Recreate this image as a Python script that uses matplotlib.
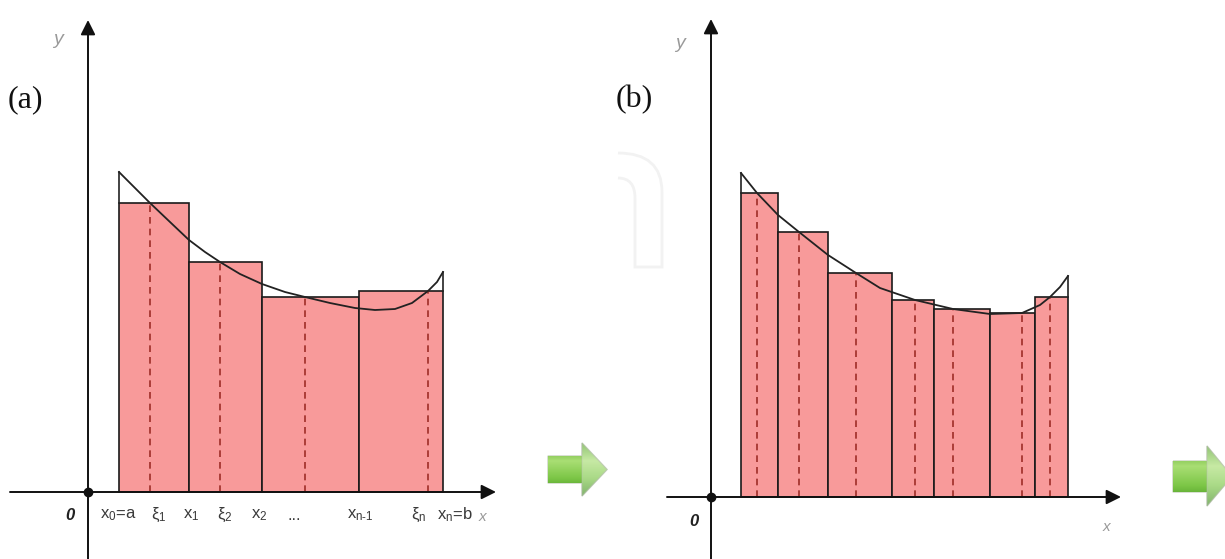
## Imports
import numpy as np
import matplotlib
matplotlib.use("Agg")
import matplotlib.pyplot as plt
from matplotlib.path import Path
from matplotlib.patches import PathPatch, Polygon
from matplotlib.colors import LinearSegmentedColormap

plt.rcParams["mathtext.fontset"] = "custom"
plt.rcParams["mathtext.rm"] = "Liberation Sans"
plt.rcParams["mathtext.it"] = "Liberation Sans:italic"

## Data (units: 1 unit = distance between gridless ticks)
# panel (a): 4 rectangles
edges_a = [3.1, 10.1, 17.4, 27.1, 35.5]
heights_a = [28.9, 23.0, 19.5, 20.1]
xi_a = [6.2, 13.2, 21.7, 34.0]
curve_xa = [3.1, 4.7, 6.2, 8.2, 10.1, 11.7, 13.2, 15.2, 17.4, 19.7, 21.7,
            24.2, 26.7, 28.7, 30.7, 32.4, 34.0, 34.9, 35.5]
curve_ya = [32.0, 30.4, 28.9, 27.0, 25.2, 24.0, 23.0, 21.8, 20.8, 20.0, 19.5,
            18.9, 18.4, 18.2, 18.3, 18.9, 20.1, 21.0, 22.0]
tick_labels_a = ["x$_0$=a", "ξ$_1$", "x$_1$", "ξ$_2$", "x$_2$", "...",
                 "x$_{\\mathrm{n}\u20111}$", "ξ$_\\mathrm{n}$", "x$_\\mathrm{n}$=b"]
tick_pos_a = [3.0, 7.1, 10.3, 13.7, 17.1, 20.6, 27.2, 33.1, 36.7]

# panel (b): 7 rectangles
edges_b = [3.0, 6.7, 11.7, 18.1, 22.3, 27.9, 32.4, 35.7]
heights_b = [30.4, 26.5, 22.4, 19.7, 18.8, 18.4, 20.0]
xi_b = [4.6, 8.8, 14.5, 20.4, 24.2, 31.1, 33.9]
curve_xb = [3.0, 4.6, 6.7, 8.8, 11.7, 14.5, 16.9, 20.4, 24.2, 27.9, 31.1,
            32.9, 33.9, 34.9, 35.7]
curve_yb = [32.4, 30.4, 28.2, 26.5, 24.2, 22.4, 20.9, 19.7, 18.8, 18.3, 18.4,
            19.2, 20.0, 21.0, 22.1]

## Styles
FILL = "#f89a9a"
DASH = "#9e2d27"
LABEL = "#3a3a3a"
GREY = "#9a9a9a"


def draw_panel(ax, edges, heights, xi, cx, cy, x_axis, y_axis):
    ax.set_axis_off()
    widths = np.diff(edges)
    ax.bar(edges[:-1], heights, width=widths, align="edge", color=FILL,
           edgecolor="#1a1a1a", linewidth=1.2, zorder=2)
    ax.vlines(xi, 0, heights, colors=DASH, linestyles=(0, (4, 3)),
              linewidth=1.2, zorder=3)
    # curve f(x) and the side lines up to it at a and b
    ax.plot(cx, cy, color="#222222", lw=1.3, zorder=4)
    ax.plot([edges[0], edges[0]], [heights[0], cy[0]], color="#222222", lw=1.2, zorder=4)
    ax.plot([edges[-1], edges[-1]], [heights[-1], cy[-1]], color="#222222", lw=1.2, zorder=4)
    # coordinate axes with arrows
    arrow = dict(arrowstyle="-|>", lw=1.4, color="#111111", mutation_scale=22,
                 shrinkA=0, shrinkB=0)
    ax.annotate("", xy=(x_axis[1], 0), xytext=(x_axis[0], 0), arrowprops=arrow, zorder=5)
    ax.annotate("", xy=(0, y_axis[1]), xytext=(0, y_axis[0]), arrowprops=arrow, zorder=5)
    ax.plot([0], [0], "o", color="#111111", ms=6, zorder=6)


## Figure
fig = plt.figure(figsize=(12.25, 5.59), dpi=100)

ax_a = fig.add_axes([0, 0, 612 / 1225, 1])
ax_a.set_xlim(-8.8, 52.4)
ax_a.set_ylim(-6.7, 49.2)
draw_panel(ax_a, edges_a, heights_a, xi_a, curve_xa, curve_ya, (-7.8, 40.8), (-6.7, 47.2))

ax_b = fig.add_axes([612 / 1225, 0, 613 / 1225, 1])
ax_b.set_xlim(-9.9, 51.4)
ax_b.set_ylim(-6.2, 49.7)
draw_panel(ax_b, edges_b, heights_b, xi_b, curve_xb, curve_yb, (-4.4, 41.0), (-6.2, 47.8))

# tick labels under panel (a)
lab_font = ["Liberation Sans Narrow", "Liberation Sans", "DejaVu Sans"]
for lab, xp in zip(tick_labels_a, tick_pos_a):
    ax_a.text(xp, -2.3, lab, ha="center", va="center", fontsize=12,
              color=LABEL, family=lab_font)
ax_a.text(39.4, -2.5, "x", ha="center", va="center", fontsize=11,
          color=GREY, style="italic", family=lab_font)
ax_a.text(-1.8, -2.4, "0", ha="center", va="center", fontsize=12,
          color="#222222", style="italic", weight="bold", family=lab_font)
ax_a.text(-3.0, 45.2, "y", ha="center", va="center", fontsize=14,
          color=GREY, style="italic", family=lab_font)

ax_b.text(39.5, -3.0, "x", ha="center", va="center", fontsize=11,
          color=GREY, style="italic", family=lab_font)
ax_b.text(-1.7, -2.5, "0", ha="center", va="center", fontsize=12,
          color="#222222", style="italic", weight="bold", family=lab_font)
ax_b.text(-3.1, 45.4, "y", ha="center", va="center", fontsize=14,
          color=GREY, style="italic", family=lab_font)

## Overlay in pixel coordinates for the decorations
ov = fig.add_axes([0, 0, 1, 1], zorder=10)
ov.set_xlim(0, 1225)
ov.set_ylim(559, 0)
ov.set_axis_off()
ov.patch.set_alpha(0)

ov.text(8, 100, "(a)", fontsize=23, family=["Liberation Serif", "DejaVu Serif"],
        va="center", ha="left", color="#111111")
ov.text(616, 100, "(b)", fontsize=23, family=["Liberation Serif", "DejaVu Serif"],
        va="center", ha="left", color="#111111")

# faint watermark hook in panel (b)
verts = [(618, 153), (662, 153), (662, 192), (662, 267), (635, 267),
         (635, 198), (635, 178), (618, 178)]
codes = [Path.MOVETO, Path.CURVE3, Path.CURVE3, Path.LINETO, Path.LINETO,
         Path.LINETO, Path.CURVE3, Path.CURVE3]
ov.add_patch(PathPatch(Path(verts, codes), fill=False, edgecolor="#f2f2f2", lw=2.0))

# green "next" arrows
green = LinearSegmentedColormap.from_list(
    "g", ["#5aa82c", "#a9de74", "#7cc646", "#3f8c1f"])


def green_arrow(x0, y0, x1, y1, xh, yh0, yh1, tip):
    ym = (y0 + y1) / 2
    pts = [(x0, y0), (x1, y0), (x1, yh0), (tip, ym), (x1, yh1), (x1, y1), (x0, y1)]
    poly = Polygon(pts, closed=True, facecolor="none", edgecolor="#c9d2c0", lw=1.0)
    ov.add_patch(poly)
    grad = np.linspace(0, 1, 64).reshape(-1, 1)
    im = ov.imshow(grad, cmap=green, extent=(x0, tip, yh1, yh0), aspect="auto",
                   zorder=1)
    im.set_clip_path(poly)
    head = Polygon([(x1, yh0), (tip, ym), (x1, yh1)], closed=True,
                   facecolor="white", alpha=0.35, edgecolor="#b8bdb3", lw=1.0)
    ov.add_patch(head)


green_arrow(548, 456, 582, 483, 582, 443, 496, 607)
green_arrow(1173, 461, 1207, 492, 1207, 446, 506, 1232)
ov.set_xlim(0, 1225)
ov.set_ylim(559, 0)

fig.savefig("out.png", dpi=100, facecolor="white")
